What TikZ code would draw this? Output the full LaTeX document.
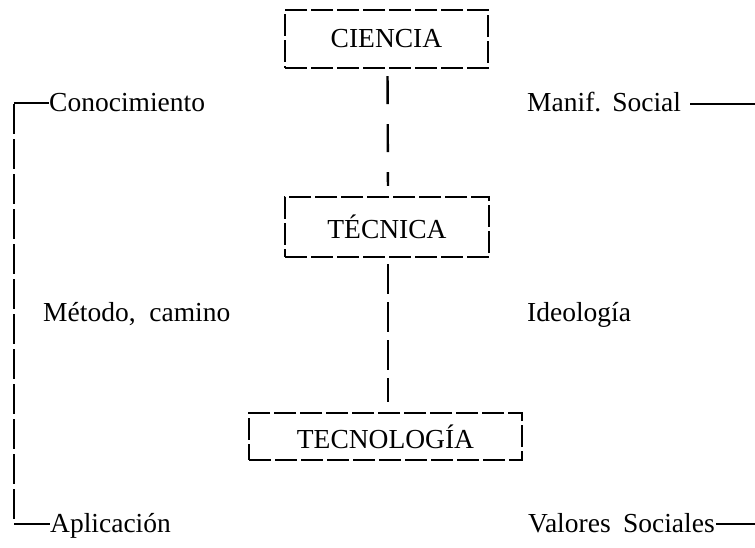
\documentclass[tikz,border=0pt]{standalone}
\usepackage{fontspec}
\setmainfont{Liberation Serif}
\begin{document}
\begin{tikzpicture}[x=1pt,y=-1pt,
  every node/.style={font=\fontsize{27.5}{33}\selectfont},
  boxnode/.style={draw, line width=2.4pt, dash pattern=on 22pt off 4pt, inner sep=0pt},
  lbl/.style={inner sep=0pt, anchor=base west},
  conn/.style={line width=2.4pt},
  brk/.style={line width=2.4pt, dash pattern=on 30pt off 5pt}]
\useasboundingbox (0,0) rectangle (755,547);
% boxes
\node[boxnode, minimum width=203pt, minimum height=58pt] (cien) at (386.5,39) {CIENCIA};
\node[boxnode, minimum width=204pt, minimum height=60pt] (tecn) at (387,227) {TÉCNICA};
\node[boxnode, minimum width=273pt, minimum height=47pt] (tecno) at (385.5,436.5) {TECNOLOGÍA};
% vertical connectors
\draw[conn, dash pattern=on 28pt off 20pt, shorten <=7pt, shorten >=10pt] ([xshift=1pt]cien.south) -- ([xshift=1pt]tecn.north);
\draw[conn, dash pattern=on 30pt off 8pt, shorten <=6pt, shorten >=10pt] ([xshift=1pt]tecn.south) -- ([xshift=2.5pt]tecno.north);
% left labels
\node[lbl] (cono) at (49,111) {Conocimiento};
\node[lbl] (meto) at (43,321) {Método,\hspace{0.5em}camino};
\node[lbl] (apli) at (50,532) {Aplicación};
% right labels
\node[lbl] (mani) at (527,111) {Manif.\hspace{0.4em}Social};
\node[lbl] (ideo) at (527,321) {Ideología};
\node[lbl] (valo) at (528,532) {Valores\hspace{0.45em}Sociales};
% left bracket
\coordinate (tl) at (14,103);
\coordinate (bl) at (14,524);
\draw[conn] (tl) -- (tl -| cono.west);
\draw[brk] ([yshift=-1pt]tl) -- ([yshift=1pt]bl);
\draw[conn] (bl) -- (bl -| apli.west);
% right lines
\coordinate (tr) at (755,104);
\coordinate (br) at (755,524);
\draw[conn] ([xshift=9pt]mani.east |- tr) -- (tr);
\draw[conn] ([xshift=1pt]valo.east |- br) -- (br);
\end{tikzpicture}
\end{document}
